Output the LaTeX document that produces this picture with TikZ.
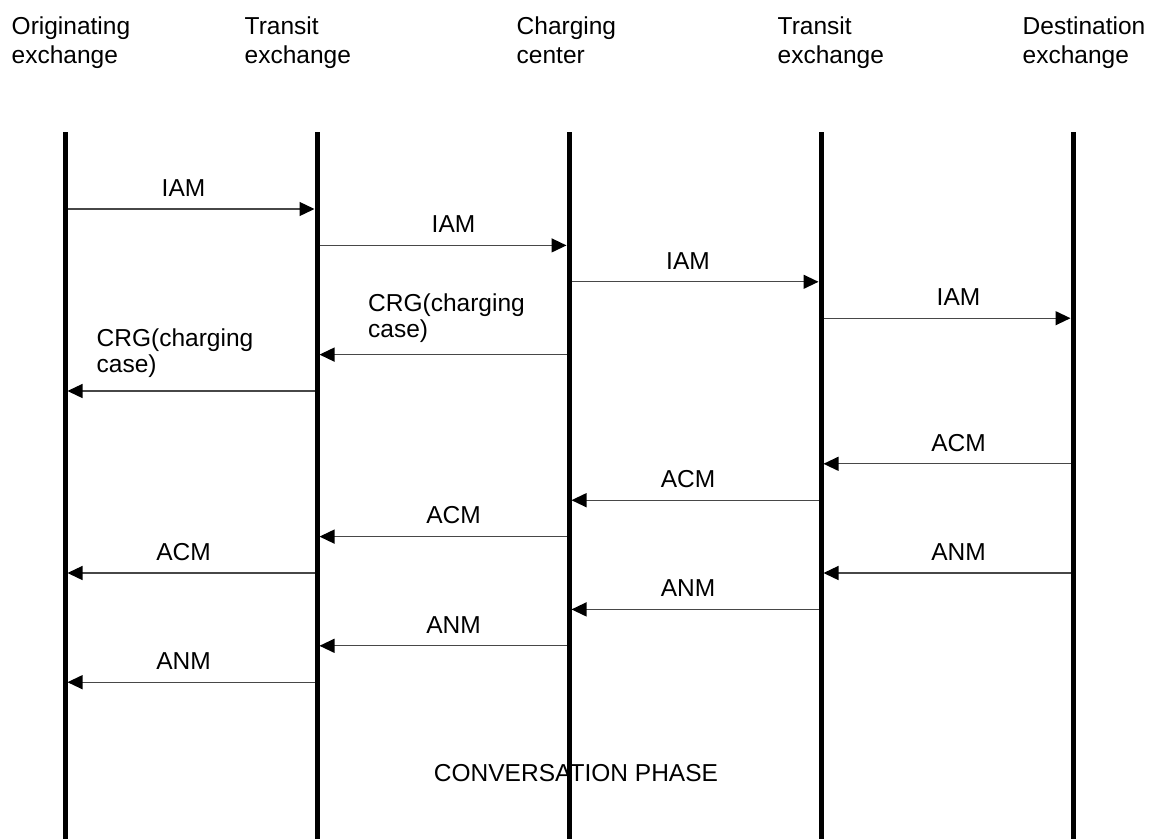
\documentclass[tikz,border=0pt]{standalone}
\usepackage{fontspec}
\setmainfont{Liberation Sans}
\usetikzlibrary{arrows.meta}
\tikzset{
  txt/.style={inner sep=0pt, font=\fontsize{24.5pt}{29pt}\selectfont},
  hdr/.style={txt, align=left, anchor=base west},
  lbl/.style={txt, anchor=base},
  crg/.style={inner sep=0pt, font=\fontsize{24.5pt}{26pt}\selectfont, align=left, anchor=base west},
  life/.style={line width=5pt, black},
  msg/.style={line width=1.3pt, black!72, shorten >=2.5pt, shorten <=2.5pt,
    -{Triangle[length=15pt, width=14pt, black]}}
}
\begin{document}
\begin{tikzpicture}[x=1pt, y=-1pt]
\useasboundingbox (0,0) rectangle (1152,839);
% headers (anchor = baseline of the last line)
\node[hdr] (h1) at (11.5,63.5) {Originating\\exchange};
\node[hdr] (h2) at (244.5,63.5) {Transit\\exchange};
\node[hdr] (h3) at (516.5,63.5) {Charging\\center};
\node[hdr] (h4) at (777.5,63.5) {Transit\\exchange};
\node[hdr] (h5) at (1022.5,63.5) {Destination\\exchange};
% conversation phase
\node[lbl] (conv) at (576,781.5) {CONVERSATION PHASE};
% lifelines
\foreach \i/\x in {1/65,2/317,3/569,4/821,5/1073}{
  \coordinate (L\i) at (\x,132);
  \coordinate (B\i) at (\x,839);
  \draw[life] (L\i) -- (B\i);
}
% messages
\draw[msg] (L1 |- 0,209)   -- (L2 |- 0,209);
\node[lbl] (m1) at (183.5,196.3) {IAM};
\draw[msg] (L2 |- 0,245.4) -- (L3 |- 0,245.4);
\node[lbl] (m2) at (453.5,232.7) {IAM};
\draw[msg] (L3 |- 0,281.8) -- (L4 |- 0,281.8);
\node[lbl] (m3) at (688,269.1) {IAM};
\draw[msg] (L4 |- 0,318.2) -- (L5 |- 0,318.2);
\node[lbl] (m4) at (958.5,305.5) {IAM};
\draw[msg] (L3 |- 0,354.6) -- (L2 |- 0,354.6);
\node[crg] (m5) at (368,337) {CRG(charging\\case)};
\draw[msg] (L2 |- 0,391)   -- (L1 |- 0,391);
\node[crg] (m6) at (96.5,372.5) {CRG(charging\\case)};
\draw[msg] (L5 |- 0,463.8) -- (L4 |- 0,463.8);
\node[lbl] (m7) at (958.5,451.1) {ACM};
\draw[msg] (L4 |- 0,500.2) -- (L3 |- 0,500.2);
\node[lbl] (m8) at (688,487.5) {ACM};
\draw[msg] (L3 |- 0,536.6) -- (L2 |- 0,536.6);
\node[lbl] (m9) at (453.5,523.9) {ACM};
\draw[msg] (L2 |- 0,573)   -- (L1 |- 0,573);
\node[lbl] (m10) at (183.5,560.3) {ACM};
\draw[msg] (L5 |- 0,573)   -- (L4 |- 0,573);
\node[lbl] (m11) at (958.5,560.3) {ANM};
\draw[msg] (L4 |- 0,609.4) -- (L3 |- 0,609.4);
\node[lbl] (m12) at (688,596.7) {ANM};
\draw[msg] (L3 |- 0,645.8) -- (L2 |- 0,645.8);
\node[lbl] (m13) at (453.5,633.1) {ANM};
\draw[msg] (L2 |- 0,682.2) -- (L1 |- 0,682.2);
\node[lbl] (m14) at (183.5,669.5) {ANM};
\end{tikzpicture}
\end{document}
